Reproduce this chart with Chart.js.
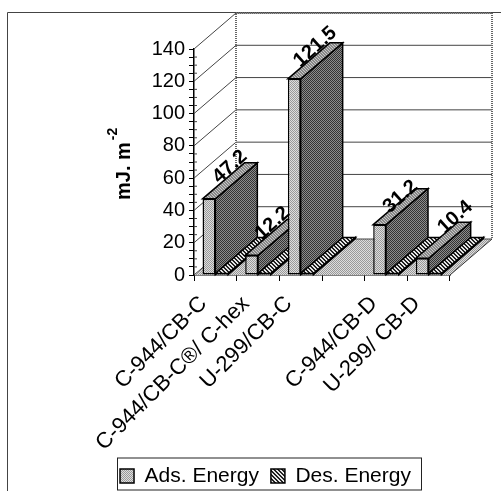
<!DOCTYPE html>
<html lang="en">
<head>
    <meta charset="UTF-8">
    <title>Adsorption and desorption energy</title>
    <script src="https://cdn.jsdelivr.net/npm/chart.js"></script>
    <style>
        html, body { margin: 0; padding: 0; background: #fff; }
        canvas { display: block; }
    </style>
</head>
<body>
    <canvas id="energyChart" width="501" height="491"></canvas>

    <script>
        const categories = ['C-944/CB-C', 'C-944/CB-C®/ C-hex', 'U-299/CB-C', '', 'C-944/CB-D', 'U-299/ CB-D'];
        const adsEnergy = [47.2, 12.2, 121.5, null, 31.2, 10.4];
        const desEnergy = [1, 1, 1, null, 1, 1];
        const seriesNames = ['Ads. Energy', 'Des. Energy'];
        const yMax = 140;
        const yStep = 5;
        const yLabelStep = 20;
        const yTitle = 'mJ. m';
        const yTitleSup = '-2';

        const FONT = '"Liberation Sans", Arial, sans-serif';
        const DEPTH_X = 42;
        const DEPTH_Y = 36;

        // Small tiled canvases standing in for the scanned dither patterns
        function dither(dark, light) {
            const c = document.createElement('canvas');
            c.width = c.height = 2;
            const g = c.getContext('2d');
            g.fillStyle = light;
            g.fillRect(0, 0, 2, 2);
            g.fillStyle = dark;
            g.fillRect(0, 0, 1, 1);
            g.fillRect(1, 1, 1, 1);
            return g.createPattern(c, 'repeat');
        }

        function stripes(dark, light, size) {
            const c = document.createElement('canvas');
            c.width = c.height = size;
            const g = c.getContext('2d');
            g.fillStyle = light;
            g.fillRect(0, 0, size, size);
            g.fillStyle = dark;
            for (let i = 0; i < size; i++) {
                g.fillRect(i, i, 1, 1);
                g.fillRect((i + 1) % size, i, 1, 1);
            }
            return g.createPattern(c, 'repeat');
        }

        const faces = [
            { side: dither('#333333', '#8c8c8c'), top: stripes('#888888', '#c8c8c8', 3) },
            { side: dither('#333333', '#8c8c8c'), top: stripes('#222222', '#e6e6e6', 4) }
        ];
        const floorFill = dither('#999999', '#dddddd');

        function fillFace(ctx, points, fill) {
            ctx.beginPath();
            points.forEach((p, i) => i ? ctx.lineTo(p[0], p[1]) : ctx.moveTo(p[0], p[1]));
            ctx.closePath();
            ctx.fillStyle = fill;
            ctx.fill();
            ctx.lineWidth = 1.5;
            ctx.strokeStyle = '#000';
            ctx.stroke();
        }

        const threeD = {
            id: 'threeD',
            beforeDraw(chart) {
                // Legend sits right of the page centre in the original
                const legend = chart.legend;
                legend.left = 15;
                legend.right = 516;
                legend.top = 475 - legend.height / 2;
                legend.bottom = legend.top + legend.height;

                const ctx = chart.ctx;
                ctx.save();
                // Outer frame, open on the right and at the bottom
                ctx.strokeStyle = '#444';
                ctx.lineWidth = 1;
                ctx.beginPath();
                ctx.moveTo(7.5, 491);
                ctx.lineTo(7.5, 12.5);
                ctx.lineTo(501, 12.5);
                ctx.stroke();
                // Legend box
                ctx.strokeStyle = '#222';
                ctx.strokeRect(117.5, 458, 304, 32);
                // Axis title with its superscript
                ctx.fillStyle = '#000';
                ctx.translate(130, 200);
                ctx.rotate(-Math.PI / 2);
                ctx.textAlign = 'left';
                ctx.textBaseline = 'alphabetic';
                ctx.font = 'bold 20px ' + FONT;
                ctx.fillText(yTitle, 0, 0);
                const w = ctx.measureText(yTitle).width;
                ctx.font = 'bold 14px ' + FONT;
                ctx.fillText(yTitleSup, w + 2, -13);
                ctx.restore();
            },
            beforeDatasetsDraw(chart) {
                const ctx = chart.ctx;
                const y = chart.scales.y;
                const x = chart.scales.x;
                const left = x.left;
                const right = x.right;
                const top = y.getPixelForValue(yMax);
                const bottom = y.getPixelForValue(0);
                ctx.save();

                // Floor
                ctx.beginPath();
                ctx.moveTo(left, bottom);
                ctx.lineTo(right, bottom);
                ctx.lineTo(right + DEPTH_X, bottom - DEPTH_Y);
                ctx.lineTo(left + DEPTH_X, bottom - DEPTH_Y);
                ctx.closePath();
                ctx.fillStyle = floorFill;
                ctx.fill();

                // Gridlines on the back wall and the left wall
                ctx.lineWidth = 1;
                ctx.strokeStyle = '#444';
                y.ticks.forEach(t => {
                    const py = y.getPixelForValue(t.value);
                    if (t.value % yLabelStep === 0) {
                        ctx.beginPath();
                        ctx.moveTo(left, py);
                        ctx.lineTo(left + DEPTH_X, py - DEPTH_Y);
                        ctx.lineTo(right + DEPTH_X, py - DEPTH_Y);
                        ctx.stroke();
                    } else {
                        // minor ticks cross the axis
                        ctx.beginPath();
                        ctx.moveTo(left, py);
                        ctx.lineTo(left + 3, py);
                        ctx.stroke();
                    }
                });

                // Speckled wall edges
                ctx.strokeStyle = '#666';
                ctx.lineWidth = 2;
                ctx.setLineDash([1, 1]);
                ctx.beginPath();
                ctx.moveTo(left + DEPTH_X, bottom - DEPTH_Y);
                ctx.lineTo(left + DEPTH_X, top - DEPTH_Y);
                ctx.lineTo(right + DEPTH_X, top - DEPTH_Y);
                ctx.lineTo(right + DEPTH_X, bottom - DEPTH_Y);
                ctx.stroke();
                ctx.setLineDash([]);
                ctx.lineWidth = 1;
                ctx.strokeStyle = '#333';
                ctx.beginPath();
                ctx.moveTo(right, bottom);
                ctx.lineTo(right + DEPTH_X, bottom - DEPTH_Y);
                ctx.stroke();

                // Bars back to front: left to right, each with its depth faces
                categories.forEach((c, i) => {
                    chart.data.datasets.forEach((ds, d) => {
                        if (ds.data[i] == null) return;
                        const bar = chart.getDatasetMeta(d).data[i];
                        const l = bar.x - bar.width / 2;
                        const r = bar.x + bar.width / 2;
                        fillFace(ctx, [[r, bar.y], [r + DEPTH_X, bar.y - DEPTH_Y], [r + DEPTH_X, bar.base - DEPTH_Y], [r, bar.base]], faces[d].side);
                        fillFace(ctx, [[l, bar.y], [l + DEPTH_X, bar.y - DEPTH_Y], [r + DEPTH_X, bar.y - DEPTH_Y], [r, bar.y]], faces[d].top);
                        bar.draw(ctx);
                    });
                });

                // Value labels for the Ads. series, lying along the top faces
                // the last two sit a little off the face in the original
                const nudge = { 4: [0, 4], 5: [12, -9] };
                ctx.fillStyle = '#000';
                ctx.font = 'bold 20px ' + FONT;
                ctx.textAlign = 'center';
                ctx.textBaseline = 'middle';
                adsEnergy.forEach((v, i) => {
                    if (v == null) return;
                    const bar = chart.getDatasetMeta(0).data[i];
                    const n = nudge[i] || [0, 0];
                    ctx.save();
                    ctx.translate(bar.x + DEPTH_X / 2 + n[0], bar.y - DEPTH_Y / 2 - 14 + n[1]);
                    ctx.rotate(-42 * Math.PI / 180);
                    ctx.fillText(v.toFixed(1), 0, 0);
                    ctx.restore();
                });
                ctx.restore();
                return false;
            }
        };

        new Chart(document.getElementById('energyChart'), {
            type: 'bar',
            data: {
                labels: categories,
                datasets: [{
                    label: seriesNames[0],
                    data: adsEnergy,
                    backgroundColor: dither('#999999', '#dedede'),
                    borderColor: '#000',
                    borderWidth: 1.5,
                    borderSkipped: false
                }, {
                    label: seriesNames[1],
                    data: desEnergy,
                    backgroundColor: stripes('#222222', '#e6e6e6', 4),
                    borderColor: '#000',
                    borderWidth: 1.5,
                    borderSkipped: false
                }]
            },
            options: {
                responsive: false,
                animation: false,
                layout: { padding: { top: 49, right: 51 } },
                datasets: { bar: { categoryPercentage: 0.6, barPercentage: 1 } },
                plugins: {
                    tooltip: { enabled: false },
                    legend: {
                        position: 'bottom',
                        labels: {
                            color: '#000',
                            font: { family: FONT, size: 21 },
                            boxWidth: 14,
                            boxHeight: 14,
                            padding: 12
                        }
                    }
                },
                scales: {
                    x: {
                        afterFit(scale) { scale.height = 216 - scale.chart.legend.height; },
                        border: { color: '#000', width: 1.5 },
                        grid: { drawOnChartArea: false, offset: true, tickLength: 6, tickColor: '#000' },
                        ticks: {
                            color: '#000',
                            font: { family: FONT, size: 22 },
                            minRotation: 45,
                            maxRotation: 45,
                            autoSkip: false,
                            labelOffset: -12,
                            padding: 10
                        }
                    },
                    y: {
                        min: 0,
                        max: yMax,
                        afterFit(scale) { scale.width = 194; },
                        border: { color: '#000', width: 1.5 },
                        grid: { drawOnChartArea: false, tickLength: 5, tickColor: '#000' },
                        ticks: {
                            stepSize: yStep,
                            autoSkip: false,
                            color: '#000',
                            font: { family: FONT, size: 20 },
                            padding: 4,
                            callback: v => (v % yLabelStep === 0 ? v : '')
                        }
                    }
                }
            },
            plugins: [threeD]
        });
    </script>
</body>
</html>
